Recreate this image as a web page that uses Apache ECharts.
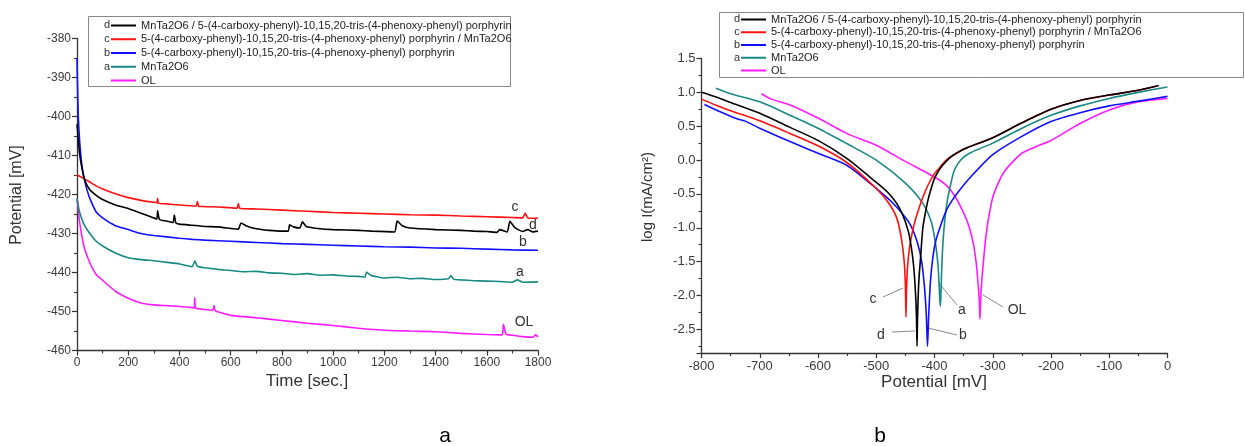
<!DOCTYPE html>
<html>
<head>
<meta charset="utf-8">
<script src="https://cdn.jsdelivr.net/npm/echarts@6/dist/echarts.min.js"></script>
<style>
html,body{margin:0;padding:0;background:#fff;}
#chart{width:1245px;height:446px;}
</style>
</head>
<body>
<div id="chart"></div>
<script>
// ---------- names ----------
const seriesNames = [
  'MnTa2O6 / 5-(4-carboxy-phenyl)-10,15,20-tris-(4-phenoxy-phenyl) porphyrin',
  '5-(4-carboxy-phenyl)-10,15,20-tris-(4-phenoxy-phenyl) porphyrin / MnTa2O6',
  '5-(4-carboxy-phenyl)-10,15,20-tris-(4-phenoxy-phenyl) porphyrin',
  'MnTa2O6',
  'OL'
];
const seriesLetters = ['d', 'c', 'b', 'a', ''];
const seriesColors = ['#000000', '#ff1010', '#1010ff', '#178a84', '#ff1aff'];

// ---------- panel a: open-circuit potential vs time ----------
const timeD = [0,5,10,20,30,50,75,100,150,200,250,300,312,315,322,350,375,380,386,400,450,500,550,600,630,640,660,700,750,800,825,830,845,870,880,895,950,1000,1100,1150,1240,1250,1270,1300,1400,1500,1550,1600,1640,1650,1680,1690,1710,1740,1760,1780,1800];
const potD  = [-402,-406,-409.5,-413.5,-416.3,-418.8,-420.2,-421.3,-422.7,-423.6,-424.8,-426,-426.3,-424.2,-426.4,-426.8,-427.2,-425.3,-427.3,-427.6,-427.9,-428.2,-428.3,-428.7,-428.9,-427.3,-428,-428.8,-429.2,-429.4,-429.4,-427.8,-428.3,-428.6,-427,-428.2,-428.8,-429,-429.2,-429.4,-429.6,-426.8,-428,-428.6,-429,-429.2,-429.4,-429.5,-429.7,-429,-429.6,-426.9,-428.5,-429.5,-429,-429.6,-429.4];

const timeC = [0,10,25,50,75,100,150,200,250,300,312,315,318,350,400,465,470,475,500,550,600,625,630,635,700,800,900,1000,1100,1200,1300,1400,1500,1600,1700,1740,1750,1760,1800];
const potC  = [-415,-415.3,-415.8,-416.8,-417.8,-418.6,-419.8,-420.8,-421.5,-422,-422.1,-421,-422.2,-422.4,-422.7,-423,-421.8,-423,-423.1,-423.2,-423.4,-423.5,-422.3,-423.5,-423.7,-424,-424.3,-424.6,-424.8,-425,-425.2,-425.3,-425.5,-425.7,-425.9,-426,-424.8,-426,-426.1];

const timeB = [0,2,5,10,15,20,30,40,50,75,100,150,200,250,300,400,450,500,600,700,800,900,1000,1100,1200,1300,1400,1500,1600,1700,1800];
const potB  = [-385,-392,-400,-406,-410,-413,-416.5,-419,-421,-424.5,-426,-428,-429,-430,-430.5,-431.2,-431.5,-431.7,-432,-432.3,-432.6,-432.8,-433,-433.2,-433.4,-433.5,-433.7,-433.8,-434,-434.2,-434.3];

const timeA = [0,5,10,20,30,50,75,100,150,200,250,300,350,400,450,460,470,500,550,600,650,700,750,800,850,900,950,1000,1050,1100,1125,1130,1150,1200,1250,1300,1350,1400,1450,1460,1470,1500,1550,1600,1650,1700,1720,1740,1800];
const potA  = [-421,-423,-424.5,-426.5,-428,-430,-432,-433.2,-435,-436.2,-436.7,-437,-437.4,-437.8,-438.5,-437,-438.4,-438.8,-439.2,-439.5,-439.8,-439.7,-440.1,-440.2,-440.5,-440.3,-440.7,-440.6,-440.9,-441,-441.2,-439.9,-440.8,-441.4,-441.2,-441.6,-441.5,-441.8,-441.6,-440.8,-441.7,-441.9,-442.1,-442.2,-442.3,-442.5,-441.9,-442.5,-442.4];

const timeOL = [0,5,10,20,30,50,75,100,150,200,250,300,350,400,450,458,460,463,500,530,535,540,600,700,800,900,1000,1100,1200,1300,1400,1500,1600,1660,1665,1675,1700,1750,1780,1790,1800];
const potOL  = [-421,-424,-427,-431,-434,-437.5,-440.5,-442,-444.8,-446.6,-447.8,-448.3,-448.5,-448.7,-449,-449.1,-446.5,-449.1,-449.5,-449.7,-448.5,-449.8,-451,-451.6,-452.3,-453,-453.6,-454.3,-454.8,-455,-455.2,-455.6,-455.9,-456,-453.3,-455.8,-456.1,-456.5,-456.6,-456,-456.5];

// ---------- panel b: Tafel curves ----------
const eD   = [-800,-775,-750,-700,-650,-600,-550,-500,-480,-465,-455,-445,-440,-436,-433,-431,-430,-429,-427,-424,-420,-415,-410,-400,-390,-380,-370,-350,-300,-250,-200,-150,-100,-50,-15];
const logD = [1.0,0.93,0.85,0.69,0.49,0.29,0.02,-0.33,-0.48,-0.64,-0.8,-1.05,-1.28,-1.55,-1.9,-2.3,-2.75,-2.3,-1.8,-1.45,-1.0,-0.75,-0.55,-0.27,-0.12,-0.02,0.06,0.16,0.33,0.55,0.75,0.88,0.96,1.03,1.1];

const eC   = [-800,-775,-750,-700,-650,-600,-550,-500,-480,-465,-457,-452,-450,-449,-448,-446,-443,-440,-435,-428,-420,-410,-400,-390,-380,-370,-350,-300,-250,-200,-150,-100,-50,-20];
const logC = [0.9,0.81,0.73,0.58,0.4,0.21,-0.04,-0.42,-0.62,-0.85,-1.15,-1.5,-1.85,-2.32,-1.9,-1.55,-1.3,-1.15,-0.95,-0.75,-0.55,-0.35,-0.2,-0.1,0.0,0.06,0.16,0.33,0.55,0.75,0.88,0.96,1.03,1.09];

const eB   = [-795,-770,-745,-735,-725,-700,-650,-600,-550,-500,-470,-450,-440,-430,-422,-417,-414,-412,-410,-407,-403,-398,-390,-380,-370,-360,-340,-300,-250,-200,-150,-100,-50,0];
const logB = [0.82,0.72,0.63,0.6,0.575,0.47,0.28,0.1,-0.08,-0.42,-0.65,-0.85,-0.98,-1.2,-1.5,-1.9,-2.3,-2.75,-2.3,-1.8,-1.45,-1.2,-0.98,-0.75,-0.6,-0.48,-0.27,0.08,0.35,0.57,0.7,0.8,0.87,0.94];

const eA   = [-775,-750,-700,-650,-600,-550,-500,-450,-420,-405,-398,-394,-392,-391,-390,-389,-388,-386,-383,-378,-372,-366,-355,-340,-300,-250,-200,-150,-100,-50,0];
const logA = [1.06,0.98,0.86,0.67,0.47,0.24,0.0,-0.34,-0.64,-0.93,-1.25,-1.55,-1.85,-2.05,-2.16,-2.0,-1.7,-1.3,-0.95,-0.6,-0.35,-0.15,0.0,0.1,0.25,0.47,0.66,0.8,0.91,1.0,1.08];

const eOL   = [-697,-680,-650,-600,-550,-500,-450,-400,-380,-366,-350,-340,-333,-328,-325,-323,-322,-321,-319,-316,-312,-308,-300,-290,-280,-265,-250,-225,-200,-150,-100,-50,0];
const logOL = [0.98,0.9,0.82,0.62,0.39,0.22,-0.02,-0.25,-0.37,-0.52,-0.78,-1.0,-1.25,-1.55,-1.85,-2.1,-2.35,-2.1,-1.8,-1.5,-1.15,-0.9,-0.55,-0.33,-0.17,-0.02,0.1,0.2,0.29,0.54,0.74,0.86,0.91];

// ---------- build ----------
const zip = (xs, ys) => xs.map((x, i) => [x, ys[i]]);
const leftData = [zip(timeD, potD), zip(timeC, potC), zip(timeB, potB), zip(timeA, potA), zip(timeOL, potOL)];
const rightData = [zip(eD, logD), zip(eC, logC), zip(eB, logB), zip(eA, logA), zip(eOL, logOL)];

const FONT = '"Liberation Sans", Arial, sans-serif';
const axisCol = '#333';

function axisCommon(extra) {
  return Object.assign({
    type: 'value',
    axisLine: { show: true, onZero: false, lineStyle: { color: axisCol, width: 1.3 } },
    axisTick: { show: true, length: 5, lineStyle: { color: axisCol, width: 1.2 } },
    minorTick: { show: true, splitNumber: 2, length: 3, lineStyle: { color: axisCol, width: 1.1 } },
    splitLine: { show: false },
    axisLabel: { color: '#3a3a3a', fontSize: 12, fontFamily: FONT, margin: 6, formatter: v => String(v) }
  }, extra);
}

const series = [];
seriesNames.forEach((name, i) => {
  series.push({
    name, type: 'line', xAxisIndex: 0, yAxisIndex: 0, data: leftData[i],
    showSymbol: false, symbol: 'none', smooth: 0.15, lineStyle: { width: 1.6, color: seriesColors[i] },
    itemStyle: { color: seriesColors[i] }, z: 10 - i, animation: false
  });
});
seriesNames.forEach((name, i) => {
  series.push({
    name, type: 'line', xAxisIndex: 1, yAxisIndex: 1, data: rightData[i],
    showSymbol: false, symbol: 'none', smooth: 0.25, lineStyle: { width: 1.6, color: seriesColors[i] },
    itemStyle: { color: seriesColors[i] }, z: 10 - i, animation: false
  });
});

function legendCfg(left, top, rowH) {
  return {
    orient: 'vertical', left, top, itemWidth: 25, itemHeight: 2, icon: 'rect',
    itemGap: rowH - 13, selectedMode: false, padding: 0,
    data: seriesNames,
    textStyle: { fontSize: 11, fontFamily: FONT, color: '#222', lineHeight: 13 }
  };
}

const graphics = [];
function txt(x, y, s, size, extra) {
  graphics.push(Object.assign({
    type: 'text', x, y,
    style: { text: s, fontSize: size, fontFamily: FONT, fill: '#333', align: 'center', verticalAlign: 'middle' }
  }, extra || {}));
}
function seg(x1, y1, x2, y2) {
  graphics.push({ type: 'line', shape: { x1, y1, x2, y2 }, style: { stroke: '#8a8a8a', lineWidth: 1 } });
}
// legend boxes
graphics.push({ type: 'rect', shape: { x: 88.5, y: 16.5, width: 422, height: 70 }, style: { fill: 'none', stroke: '#888', lineWidth: 1 } });
graphics.push({ type: 'rect', shape: { x: 719.5, y: 12.5, width: 524, height: 65 }, style: { fill: 'none', stroke: '#888', lineWidth: 1 } });
// legend letters
const leftRows = [25, 39, 53, 67, 80];
const rightRows = [19, 32, 44.5, 57.5, 70];
seriesLetters.forEach((l, i) => {
  if (!l) return;
  txt(107, leftRows[i], l, 11, {});
  txt(737, rightRows[i], l, 11, {});
});
// axis titles
txt(17, 195, 'Potential [mV]', 16, { rotation: Math.PI / 2 });
txt(307, 381, 'Time [sec.]', 17);
txt(648, 197, 'log I(mA/cm²)', 15, { rotation: Math.PI / 2 });
txt(934, 382, 'Potential [mV]', 17);
// panel labels
txt(445, 436, 'a', 21, { style: { text: 'a', fontSize: 21, fontFamily: FONT, fill: '#000', align: 'center', verticalAlign: 'middle' } });
txt(880, 436, 'b', 21, { style: { text: 'b', fontSize: 21, fontFamily: FONT, fill: '#000', align: 'center', verticalAlign: 'middle' } });
// curve labels panel a
txt(515, 207, 'c', 14);
txt(533, 225, 'd', 14);
txt(523, 242, 'b', 14);
txt(520, 272, 'a', 14);
txt(524, 322, 'OL', 14);
// curve labels panel b
txt(873, 299, 'c', 14); seg(883, 297, 903, 288);
txt(881, 335, 'd', 14); seg(892, 332, 915, 331);
txt(962, 310, 'a', 14); seg(938, 282, 957, 305);
txt(963, 335, 'b', 14); seg(928, 328, 957, 335);
txt(1017, 310, 'OL', 14); seg(983, 295, 1003, 307);

const option = {
  animation: false,
  backgroundColor: '#fff',
  grid: [
    { left: 77, top: 38.5, width: 461, height: 312 },
    { left: 701.5, top: 58.5, width: 466, height: 294.5 }
  ],
  xAxis: [
    axisCommon({ gridIndex: 0, min: 0, max: 1800, interval: 200 }),
    axisCommon({ gridIndex: 1, min: -800, max: 0, interval: 100, axisLabel: { color: '#3a3a3a', fontSize: 13, fontFamily: FONT, margin: 7, formatter: v => String(v) } })
  ],
  yAxis: [
    axisCommon({ gridIndex: 0, min: -460, max: -380, interval: 10 }),
    axisCommon({ gridIndex: 1, min: -2.85, max: 1.5, splitNumber: 8,
      axisLabel: { color: '#3a3a3a', fontSize: 13, fontFamily: FONT, margin: 6, showMinLabel: false,
        formatter: v => (Math.abs(v * 2 - Math.round(v * 2)) < 1e-6 ? v.toFixed(1) : '') } })
  ],
  legend: [legendCfg(111, 19, 13.75), legendCfg(741, 13, 12.75)],
  series,
  graphic: graphics
};

const chart = echarts.init(document.getElementById('chart'), null, { renderer: 'canvas' });
chart.setOption(option);
</script>
</body>
</html>
